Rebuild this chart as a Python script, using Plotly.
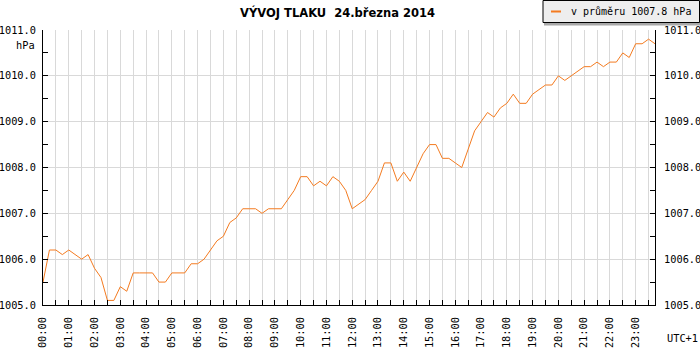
import pandas as pd
import plotly.graph_objects as go

# ---- data (15-minute readings, hPa) ----
start_time = "2014-03-24 00:00"
pressure = [
    1005.5, 1006.2, 1006.2, 1006.1, 1006.2, 1006.1, 1006.0, 1006.1,
    1005.8, 1005.6, 1005.1, 1005.1, 1005.4, 1005.3, 1005.7, 1005.7,
    1005.7, 1005.7, 1005.5, 1005.5, 1005.7, 1005.7, 1005.7, 1005.9,
    1005.9, 1006.0, 1006.2, 1006.4, 1006.5, 1006.8, 1006.9, 1007.1,
    1007.1, 1007.1, 1007.0, 1007.1, 1007.1, 1007.1, 1007.3, 1007.5,
    1007.8, 1007.8, 1007.6, 1007.7, 1007.6, 1007.8, 1007.7, 1007.5,
    1007.1, 1007.2, 1007.3, 1007.5, 1007.7, 1008.1, 1008.1, 1007.7,
    1007.9, 1007.7, 1008.0, 1008.3, 1008.5, 1008.5, 1008.2, 1008.2,
    1008.1, 1008.0, 1008.4, 1008.8, 1009.0, 1009.2, 1009.1, 1009.3,
    1009.4, 1009.6, 1009.4, 1009.4, 1009.6, 1009.7, 1009.8, 1009.8,
    1010.0, 1009.9, 1010.0, 1010.1, 1010.2, 1010.2, 1010.3, 1010.2,
    1010.3, 1010.3, 1010.5, 1010.4, 1010.7, 1010.7, 1010.8, 1010.7,
]
times = pd.date_range(start_time, periods=len(pressure), freq="15min")
y_range = [1005, 1011]
title_text = "VÝVOJ TLAKU\u00a0 24.března 2014"
legend_text = "v průměru 1007.8 hPa"
unit_text = "hPa"
tz_text = "UTC+1"

LINE = "#f47b20"
GRID = "#d9d9d9"
FONT = "DejaVu Sans Mono"

W, H = 700, 350
L, R, T, B = 43, 45, 30, 45
PW, PH = W - L - R, H - T - B


def px(xp):
    return (xp - L) / PW


def py(yp):
    return (H - B - yp) / PH


fig = go.Figure()
fig.add_trace(go.Scatter(x=times, y=pressure, mode="lines",
                         line=dict(color=LINE, width=1), showlegend=False,
                         hoverinfo="x+y"))
fig.add_trace(go.Scatter(x=times, y=pressure, mode="lines", yaxis="y2",
                         line=dict(color="rgba(0,0,0,0)", width=0),
                         showlegend=False, hoverinfo="skip"))

tickfont = dict(family=FONT, size=10.3, color="black")

fig.update_layout(
    width=W, height=H,
    margin=dict(l=L, r=R, t=T, b=B, autoexpand=False),
    paper_bgcolor="white", plot_bgcolor="white",
    title=dict(text=title_text, x=337.5 / W, xanchor="center",
               y=1 - 13 / H, yanchor="middle",
               font=dict(family="DejaVu Sans", size=11.5, color="black",
                         weight="bold")),
    xaxis=dict(
        type="date", automargin=False,
        range=[times[0], times[-1]],
        tickformat="%H:%M", dtick=3600000, tick0=times[0],
        tickangle=-90, tickfont=tickfont,
        ticks="inside", ticklen=5, tickcolor="black",
        showgrid=True, gridcolor=GRID, gridwidth=1,
        minor=dict(dtick=1800000, ticks="inside", ticklen=5,
                   tickcolor="black", showgrid=True, gridcolor=GRID),
        showline=True, linecolor="black", linewidth=1,
        ticklabelstandoff=7,
        zeroline=False,
    ),
    yaxis=dict(
        automargin=False,
        range=y_range, dtick=1, tickformat=".1f", tickfont=tickfont,
        ticks="inside", ticklen=5, tickcolor="black",
        showgrid=True, gridcolor=GRID, gridwidth=1,
        minor=dict(dtick=0.5, ticks="inside", ticklen=5, tickcolor="black",
                   showgrid=False),
        showline=True, linecolor="black", linewidth=1,
        ticklabelstandoff=4,
        zeroline=False,
    ),
    yaxis2=dict(
        automargin=False,
        range=y_range, dtick=1, tickformat=".1f", tickfont=tickfont,
        overlaying="y", side="right",
        ticks="inside", ticklen=5, tickcolor="black",
        showgrid=False,
        minor=dict(dtick=0.5, ticks="inside", ticklen=5, tickcolor="black",
                   showgrid=False),
        showline=True, linecolor="black", linewidth=1,
        ticklabelstandoff=6,
        zeroline=False,
    ),
    showlegend=False,
)

# manual legend box (top-right) with shadow
fig.add_shape(type="rect", xref="paper", yref="paper",
              x0=px(544), x1=px(703), y0=py(25.5), y1=py(3),
              fillcolor="#a8a8a8", line=dict(width=0), layer="above")
fig.add_shape(type="rect", xref="paper", yref="paper",
              x0=px(543), x1=px(699.5), y0=py(22.5), y1=py(0.5),
              fillcolor="#eeeeee", line=dict(color="black", width=1),
              layer="above")
fig.add_shape(type="line", xref="paper", yref="paper",
              x0=px(551), x1=px(561), y0=py(11.5), y1=py(11.5),
              line=dict(color=LINE, width=2), layer="above")
fig.add_annotation(text=legend_text, xref="paper", yref="paper",
                   x=px(569), y=py(11.5), xanchor="left", yanchor="middle",
                   showarrow=False, font=dict(family=FONT, size=10, color="black"))

fig.add_annotation(text=unit_text, xref="paper", yref="paper",
                   x=px(37), y=py(45), xanchor="right", yanchor="middle",
                   showarrow=False, font=tickfont)
fig.add_annotation(text=tz_text, xref="paper", yref="paper",
                   x=px(665), y=py(338), xanchor="left", yanchor="middle",
                   showarrow=False, font=tickfont)

fig.write_html(
    "out.html",
    config={"displayModeBar": False},
    post_script="document.body.style.margin='0';document.body.style.overflow='hidden';",
)
